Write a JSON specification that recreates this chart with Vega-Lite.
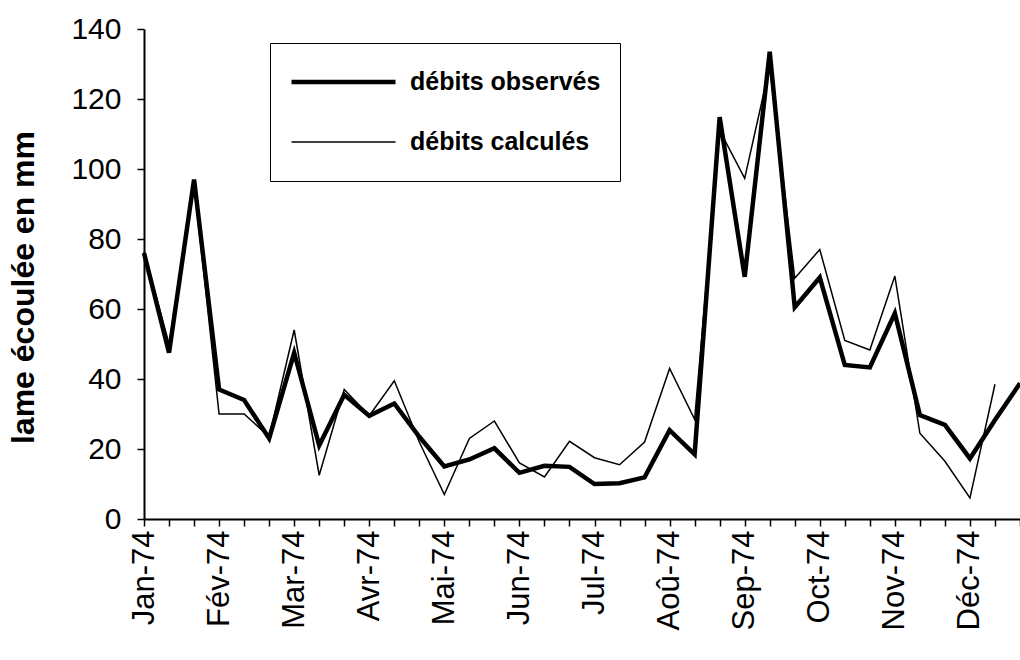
{
  "$schema": "https://vega.github.io/schema/vega-lite/v6.json",
  "width": 876,
  "height": 490,
  "autosize": "none",
  "padding": {"left": 144, "top": 29, "right": 0, "bottom": 141},
  "background": "white",
  "config": {"view": {"stroke": null}, "font": "Liberation Sans"},
  "data": {
    "values": [
      {"periode": "Jan-74 d1", "débits observés": 76, "débits calculés": 76.5},
      {"periode": "Jan-74 d2", "débits observés": 47.5, "débits calculés": 50},
      {"periode": "Jan-74 d3", "débits observés": 97, "débits calculés": 96},
      {"periode": "Fév-74 d1", "débits observés": 37, "débits calculés": 30},
      {"periode": "Fév-74 d2", "débits observés": 34, "débits calculés": 30},
      {"periode": "Fév-74 d3", "débits observés": 23, "débits calculés": 23.5},
      {"periode": "Mar-74 d1", "débits observés": 47.5, "débits calculés": 54},
      {"periode": "Mar-74 d2", "débits observés": 21, "débits calculés": 12.5},
      {"periode": "Mar-74 d3", "débits observés": 35.5, "débits calculés": 37},
      {"periode": "Avr-74 d1", "débits observés": 29.5, "débits calculés": 29.5},
      {"periode": "Avr-74 d2", "débits observés": 33, "débits calculés": 39.5},
      {"periode": "Avr-74 d3", "débits observés": 23.5, "débits calculés": 22},
      {"periode": "Mai-74 d1", "débits observés": 15, "débits calculés": 7},
      {"periode": "Mai-74 d2", "débits observés": 17, "débits calculés": 23},
      {"periode": "Mai-74 d3", "débits observés": 20.2, "débits calculés": 28},
      {"periode": "Jun-74 d1", "débits observés": 13.2, "débits calculés": 16},
      {"periode": "Jun-74 d2", "débits observés": 15.2, "débits calculés": 12},
      {"periode": "Jun-74 d3", "débits observés": 14.9, "débits calculés": 22.2},
      {"periode": "Jul-74 d1", "débits observés": 10, "débits calculés": 17.5},
      {"periode": "Jul-74 d2", "débits observés": 10.2, "débits calculés": 15.5},
      {"periode": "Jul-74 d3", "débits observés": 11.9, "débits calculés": 22},
      {"periode": "Aoû-74 d1", "débits observés": 25.4, "débits calculés": 43},
      {"periode": "Aoû-74 d2", "débits observés": 18.5, "débits calculés": 28.5},
      {"periode": "Aoû-74 d3", "débits observés": 114.8, "débits calculés": 111},
      {"periode": "Sep-74 d1", "débits observés": 69.2, "débits calculés": 97.3},
      {"periode": "Sep-74 d2", "débits observés": 133.5, "débits calculés": 129.3},
      {"periode": "Sep-74 d3", "débits observés": 60.5, "débits calculés": 68.8},
      {"periode": "Oct-74 d1", "débits observés": 69, "débits calculés": 77},
      {"periode": "Oct-74 d2", "débits observés": 44, "débits calculés": 51},
      {"periode": "Oct-74 d3", "débits observés": 43.3, "débits calculés": 48.3},
      {"periode": "Nov-74 d1", "débits observés": 58.8, "débits calculés": 69.4},
      {"periode": "Nov-74 d2", "débits observés": 29.7, "débits calculés": 24.5},
      {"periode": "Nov-74 d3", "débits observés": 26.9, "débits calculés": 16.5},
      {"periode": "Déc-74 d1", "débits observés": 17.3, "débits calculés": 6},
      {"periode": "Déc-74 d2", "débits observés": 28.3, "débits calculés": 38.5},
      {"periode": "Déc-74 d3", "débits observés": 38.8, "débits calculés": null}
    ]
  },
  "transform": [
    {"fold": ["débits observés", "débits calculés"], "as": ["serie", "v"]}
  ],
  "mark": {"type": "line", "color": "black"},
  "encoding": {
    "x": {
      "field": "periode",
      "type": "ordinal",
      "sort": null,
      "scale": {"type": "point", "padding": 0},
      "axis": {
        "title": null,
        "labelAngle": -90,
        "labelExpr": "slice(datum.value, -2) == 'd1' ? slice(datum.value, 0, -3) : ''",
        "labelFontSize": 31,
        "labelFont": "Liberation Sans",
        "labelColor": "black",
        "labelPadding": 4,
        "labelOverlap": false,
        "labelFlush": false,
        "labelBound": false,
        "tickColor": "black",
        "tickSize": 7,
        "tickWidth": 1.5,
        "domainColor": "black",
        "domainWidth": 2,
        "grid": false
      }
    },
    "y": {
      "field": "v",
      "type": "quantitative",
      "scale": {"domain": [0, 140], "nice": false},
      "axis": {
        "values": [0, 20, 40, 60, 80, 100, 120, 140],
        "title": "lame écoulée en mm",
        "titleFont": "Liberation Sans",
        "titleFontSize": 32,
        "titleFontWeight": "bold",
        "titleColor": "black",
        "titlePadding": 30,
        "titleY": 258,
        "labelFontSize": 30,
        "labelFont": "Liberation Sans",
        "labelColor": "black",
        "labelPadding": 16,
        "tickColor": "black",
        "tickSize": 7,
        "tickWidth": 1.5,
        "domainColor": "black",
        "domainWidth": 2,
        "grid": false
      }
    },
    "strokeWidth": {
      "field": "serie",
      "type": "ordinal",
      "scale": {"domain": ["débits observés", "débits calculés"], "range": [4.5, 1.5]},
      "legend": {
        "orient": "none",
        "legendX": 126,
        "legendY": 14,
        "title": null,
        "direction": "vertical",
        "strokeColor": "black",
        "fillColor": "white",
        "padding": 19,
        "symbolType": "stroke",
        "symbolSize": 10816,
        "symbolStrokeColor": "black",
        "clipHeight": 40,
        "rowPadding": 20,
        "labelFont": "Liberation Sans",
        "labelFontSize": 25,
        "labelFontWeight": "bold",
        "labelColor": "black",
        "labelOffset": 12,
        "labelLimit": 400
      }
    }
  }
}
